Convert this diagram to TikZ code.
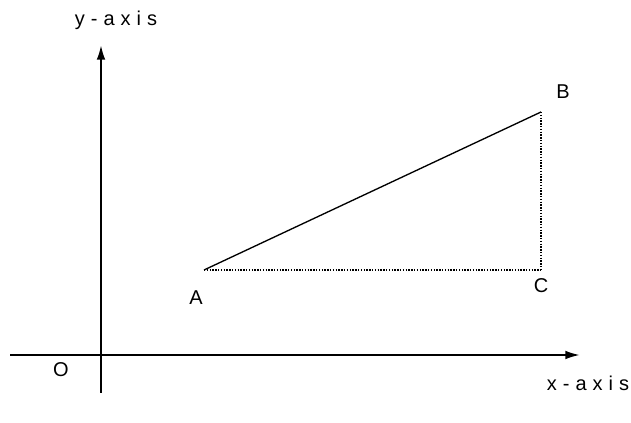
\documentclass[tikz,border=0pt]{standalone}
\usepackage{fontspec}
\setmainfont{Liberation Sans}
\usepackage{tikz}
\usetikzlibrary{arrows.meta}

\begin{document}
\begin{tikzpicture}[
        x=0.75pt, y=-0.75pt,
        axis/.style={line width=1.5pt, -{Latex[length=11pt, width=6.5pt]}},
        side/.style={line width=1pt},
        dotside/.style={line width=1.1pt, densely dotted},
        lbl/.style={font=\fontsize{15}{17}\selectfont, inner sep=0pt},
        axlbl/.style={font=\fontsize{15}{17}\selectfont\addfontfeature{LetterSpace=30}, inner sep=0pt}
    ]
        \useasboundingbox (0,0) rectangle (631,423);

        \coordinate (o) at (101,355);
        \coordinate (xstart) at (10,355);
        \coordinate (xend) at (580,355);
        \coordinate (ystart) at (101,393);
        \coordinate (yend) at (101,45);

        \coordinate (a) at (204,270);
        \coordinate (b) at (541,112);
        \coordinate (c) at (541,270);

        \node[lbl] (olbl) at (61,370) {O};
        \node[lbl] (albl) at (196,298) {A};
        \node[lbl] (blbl) at (563,92) {B};
        \node[lbl] (clbl) at (541,286) {C};
        \node[axlbl] (ylbl) at (116,20) {y-axis};
        \node[axlbl] (xlbl) at (588,383) {x-axis};

        \draw[axis] (xstart) -- (xend);
        \draw[axis] (ystart) -- (yend);

        \draw[side] (a) -- (b);
        \draw[dotside] (a) -- (c);
        \draw[dotside] (b) -- (c);
    \end{tikzpicture}
\end{document}
